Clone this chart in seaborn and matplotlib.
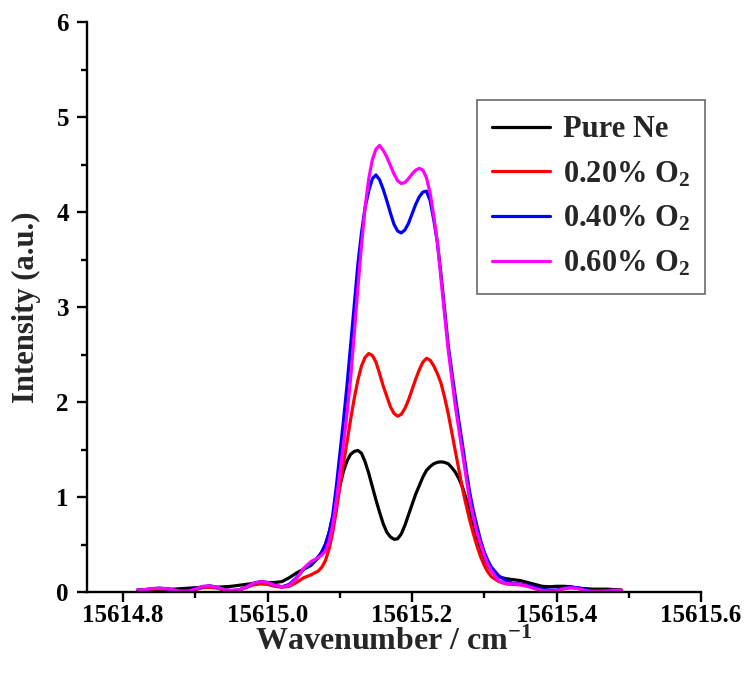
import numpy as np
import pandas as pd
import matplotlib
matplotlib.use("Agg")
import matplotlib.pyplot as plt
from matplotlib.ticker import MultipleLocator, FormatStrFormatter
import seaborn as sns

# wavenumber grid (cm^-1): coarse in the wings, finer across the doublet
wavenumber = [15614.82, 15614.83, 15614.84, 15614.85, 15614.86, 15614.87, 15614.88, 15614.89,
              15614.90, 15614.91, 15614.92, 15614.93, 15614.94, 15614.95, 15614.96, 15614.97,
              15614.98, 15614.99, 15615.00, 15615.01, 15615.02, 15615.03, 15615.04, 15615.05,
              15615.06,
              15615.065, 15615.070, 15615.075, 15615.080, 15615.085, 15615.090, 15615.095,
              15615.100, 15615.105, 15615.110, 15615.115, 15615.120, 15615.125, 15615.130,
              15615.135, 15615.140, 15615.145, 15615.150, 15615.155, 15615.160, 15615.165,
              15615.170, 15615.175, 15615.180, 15615.185, 15615.190, 15615.195, 15615.200,
              15615.205, 15615.210, 15615.215, 15615.220, 15615.225, 15615.230, 15615.235,
              15615.240, 15615.245, 15615.250, 15615.255, 15615.260, 15615.265, 15615.270,
              15615.275, 15615.280, 15615.285, 15615.290, 15615.295, 15615.300, 15615.305,
              15615.31, 15615.32, 15615.33, 15615.34, 15615.35, 15615.36, 15615.37, 15615.38,
              15615.39, 15615.40, 15615.41, 15615.42, 15615.43, 15615.44, 15615.45, 15615.46,
              15615.47, 15615.48, 15615.49]

pure_ne = [0.02, 0.02, 0.025, 0.03, 0.03, 0.03, 0.035, 0.04,
           0.045, 0.05, 0.05, 0.05, 0.055, 0.06, 0.07, 0.08,
           0.09, 0.10, 0.10, 0.10, 0.11, 0.15, 0.20, 0.24,
           0.28,
           0.32, 0.36, 0.42, 0.50, 0.62, 0.78, 0.95,
           1.12, 1.27, 1.38, 1.45, 1.48, 1.49, 1.46,
           1.37, 1.25, 1.11, 0.97, 0.84, 0.72, 0.63,
           0.58, 0.555, 0.56, 0.61, 0.70, 0.81, 0.92,
           1.03, 1.12, 1.21, 1.28, 1.32, 1.35, 1.365,
           1.37, 1.365, 1.35, 1.31, 1.26, 1.19, 1.10,
           0.98, 0.85, 0.71, 0.58, 0.46, 0.36, 0.28,
           0.22, 0.16, 0.14, 0.13, 0.12, 0.10, 0.08, 0.06,
           0.055, 0.06, 0.06, 0.055, 0.04, 0.035, 0.03, 0.03,
           0.03, 0.025, 0.02]

o2_020 = [0.02, 0.02, 0.03, 0.035, 0.03, 0.02, 0.01, 0.01,
          0.025, 0.045, 0.05, 0.04, 0.02, 0.015, 0.02, 0.045,
          0.075, 0.085, 0.08, 0.06, 0.05, 0.06, 0.10, 0.15,
          0.18,
          0.20, 0.22, 0.26, 0.33, 0.45, 0.62, 0.85,
          1.10, 1.35, 1.58, 1.82, 2.04, 2.23, 2.38,
          2.47, 2.51, 2.49, 2.42, 2.30, 2.17, 2.06,
          1.95, 1.88, 1.85, 1.87, 1.93, 2.02, 2.13,
          2.24, 2.34, 2.42, 2.46, 2.44, 2.38, 2.30,
          2.20, 2.05, 1.88, 1.68, 1.48, 1.28, 1.08,
          0.91, 0.75, 0.61, 0.48, 0.37, 0.28, 0.21,
          0.16, 0.11, 0.085, 0.08, 0.075, 0.06, 0.04, 0.02,
          0.015, 0.015, 0.035, 0.045, 0.04, 0.02, 0.01, 0.01,
          0.015, 0.02, 0.02]

o2_040 = [0.02, 0.025, 0.035, 0.04, 0.035, 0.02, 0.01, 0.01,
          0.03, 0.055, 0.065, 0.05, 0.025, 0.015, 0.02, 0.05,
          0.09, 0.11, 0.10, 0.07, 0.055, 0.08, 0.15, 0.24,
          0.30,
          0.33, 0.37, 0.42, 0.50, 0.62, 0.80, 1.10,
          1.45, 1.80, 2.18, 2.60, 3.02, 3.45, 3.78,
          4.05, 4.22, 4.35, 4.39, 4.34, 4.24, 4.12,
          3.99, 3.87, 3.80, 3.78, 3.81, 3.88, 3.98,
          4.08, 4.16, 4.21, 4.22, 4.12, 3.92, 3.68,
          3.35, 2.98, 2.60, 2.32, 2.05, 1.79, 1.54,
          1.28, 1.04, 0.85, 0.69, 0.54, 0.42, 0.33,
          0.26, 0.17, 0.12, 0.09, 0.085, 0.07, 0.05, 0.03,
          0.02, 0.02, 0.04, 0.05, 0.045, 0.025, 0.01, 0.01,
          0.015, 0.02, 0.015]

o2_060 = [0.02, 0.025, 0.035, 0.04, 0.035, 0.02, 0.008, 0.008,
          0.03, 0.06, 0.065, 0.05, 0.025, 0.015, 0.02, 0.05,
          0.09, 0.11, 0.10, 0.07, 0.055, 0.07, 0.14, 0.25,
          0.32,
          0.34, 0.36, 0.39, 0.43, 0.53, 0.70, 0.95,
          1.25, 1.55, 1.88, 2.25, 2.72, 3.20, 3.65,
          4.05, 4.35, 4.55, 4.66, 4.70, 4.65, 4.58,
          4.49, 4.40, 4.33, 4.30, 4.31, 4.35, 4.40,
          4.44, 4.46, 4.44, 4.36, 4.20, 3.96, 3.68,
          3.30, 2.92, 2.55, 2.25, 1.95, 1.70, 1.45,
          1.20, 0.95, 0.78, 0.62, 0.50, 0.38, 0.29,
          0.22, 0.12, 0.09, 0.085, 0.08, 0.06, 0.035, 0.015,
          0.01, 0.012, 0.035, 0.045, 0.035, 0.015, 0.005, 0.005,
          0.01, 0.015, 0.015]

series_labels = ["Pure Ne", r"0.20% O$_\mathbf{2}$", r"0.40% O$_\mathbf{2}$", r"0.60% O$_\mathbf{2}$"]
series_colors = ["#000000", "#ff0000", "#0000ff", "#ff00ff"]
series_values = [pure_ne, o2_020, o2_040, o2_060]

frames = []
for lab, vals in zip(series_labels, series_values):
    frames.append(pd.DataFrame({"wavenumber": wavenumber, "intensity": vals, "series": lab}))
df = pd.concat(frames, ignore_index=True)

sns.set_style("ticks")
plt.rcParams["font.family"] = ["Liberation Serif", "DejaVu Serif"]
plt.rcParams["font.weight"] = "bold"
plt.rcParams["mathtext.fontset"] = "custom"
plt.rcParams["mathtext.rm"] = "Liberation Serif:bold"
plt.rcParams["mathtext.bf"] = "Liberation Serif:bold"
plt.rcParams["mathtext.it"] = "Liberation Serif:bold"

fig = plt.figure(figsize=(7.46, 6.73), dpi=100)
ax = fig.add_axes([87 / 746, 81 / 673, 614 / 746, 570 / 673])

sns.lineplot(data=df, x="wavenumber", y="intensity", hue="series",
             hue_order=series_labels, palette=dict(zip(series_labels, series_colors)),
             sort=False, linewidth=2.3, ax=ax, estimator=None)

ax.set_xlim(15614.75, 15615.6)
ax.set_ylim(0, 6)
ax.xaxis.set_major_locator(MultipleLocator(0.2))
ax.xaxis.set_minor_locator(MultipleLocator(0.1))
ax.xaxis.set_major_formatter(FormatStrFormatter("%.1f"))
ax.yaxis.set_major_locator(MultipleLocator(1))
ax.yaxis.set_minor_locator(MultipleLocator(0.5))

for side in ["top", "right"]:
    ax.spines[side].set_visible(False)
for side in ["left", "bottom"]:
    ax.spines[side].set_linewidth(1.7)
    ax.spines[side].set_color("black")

ax.tick_params(axis="both", which="major", direction="out", length=7, width=1.7, colors="black")
ax.tick_params(axis="both", which="minor", direction="out", length=4, width=1.7, colors="black")
ax.tick_params(axis="x", labelsize=18, pad=2)
ax.tick_params(axis="y", labelsize=18, pad=6)
for t in ax.get_xticklabels() + ax.get_yticklabels():
    t.set_fontweight("bold")

ax.set_xlabel(r"Wavenumber / cm$^\mathbf{-1}$", fontsize=23, fontweight="bold", labelpad=0)
ax.set_ylabel("Intensity (a.u.)", fontsize=22, fontweight="bold", labelpad=11)

leg = ax.legend(loc="upper left", bbox_to_anchor=(477 / 746, 1 - 100 / 673),
                bbox_transform=fig.transFigure, frameon=True, fancybox=False,
                prop={"family": "Liberation Serif", "weight": "bold", "size": 22},
                handlelength=1.9, handletextpad=0.4, labelspacing=0.5,
                borderpad=0.5, borderaxespad=0)
leg.get_frame().set_edgecolor("#444444")
leg.get_frame().set_linewidth(1.2)
for line in leg.get_lines():
    line.set_linewidth(2.3)

fig.savefig("out.png", dpi=100)
